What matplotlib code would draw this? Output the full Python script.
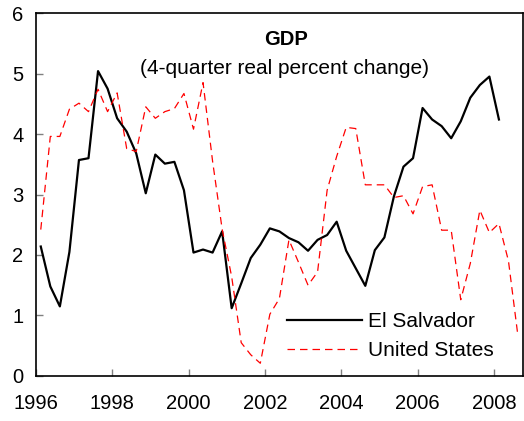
import numpy as np
import matplotlib
matplotlib.use("Agg")
import matplotlib.pyplot as plt

plt.rcParams['font.family'] = ['Liberation Sans', 'DejaVu Sans']

# quarterly 4-quarter real GDP growth, starting 1996Q1
el_salvador = [2.14, 1.48, 1.15, 2.05,
               3.57, 3.60, 5.04, 4.75,
               4.26, 4.04, 3.68, 3.02,
               3.66, 3.51, 3.54, 3.07,
               2.04, 2.09, 2.04, 2.39,
               1.12, 1.53, 1.95, 2.17,
               2.44, 2.39, 2.28, 2.21,
               2.07, 2.25, 2.33, 2.55,
               2.07, 1.78, 1.49, 2.08,
               2.29, 2.97, 3.46, 3.60,
               4.43, 4.24, 4.13, 3.93,
               4.21, 4.60, 4.81, 4.95,
               4.24]
united_states = [2.42, 3.96, 3.96, 4.41,
                 4.51, 4.37, 4.74, 4.37,
                 4.68, 3.76, 3.71, 4.45,
                 4.26, 4.37, 4.42, 4.67,
                 4.08, 4.85, 3.55, 2.43,
                 1.64, 0.55, 0.35, 0.21,
                 1.02, 1.28, 2.25, 1.88,
                 1.50, 1.72, 3.07, 3.63,
                 4.11, 4.09, 3.16, 3.16,
                 3.16, 2.95, 2.98, 2.68,
                 3.13, 3.16, 2.41, 2.41,
                 1.26, 1.86, 2.74, 2.37,
                 2.52, 1.90, 0.65]
year_ticks = [1996, 1998, 2000, 2002, 2004, 2006, 2008]
start_year = 1996


def quarter_x(n):
    # mid-quarter positions
    return start_year + 0.125 + np.arange(n) / 4.0


fig = plt.figure(figsize=(5.24, 4.21), dpi=100)
ax = fig.add_axes([0.0687, 0.107, 0.929, 0.862])

ax.plot(quarter_x(len(el_salvador)), el_salvador, color='black', lw=1.6,
        label='El Salvador')
ax.plot(quarter_x(len(united_states)), united_states, color='#ff0000', lw=0.9,
        dashes=(6, 4), label='United States')

ax.set_xlim(1996, 2008.75)
ax.set_ylim(0, 6)
ax.set_xticks(year_ticks)
ax.set_yticks(range(0, 7))
ax.tick_params(direction='in', length=5, labelsize=14.5, width=1, colors='#808080',
               labelcolor='black')
ax.tick_params(axis='x', pad=13)
ax.tick_params(axis='y', pad=9)
for s in ax.spines.values():
    s.set_linewidth(1.2)
    s.set_color('black')

ax.text(0.514, 0.926, 'GDP', transform=ax.transAxes, ha='center', va='center',
        fontsize=14.5, fontweight='bold')
ax.text(0.51, 0.848, '(4-quarter real percent change)', transform=ax.transAxes,
        ha='center', va='center', fontsize=15)

ax.legend(loc='center left', bbox_to_anchor=(0.515, 0.11), frameon=False,
          fontsize=15, handlelength=3.6, handletextpad=0.3, labelspacing=0.5,
          borderaxespad=0.0, borderpad=0.0)

fig.savefig('out.png', dpi=100)
